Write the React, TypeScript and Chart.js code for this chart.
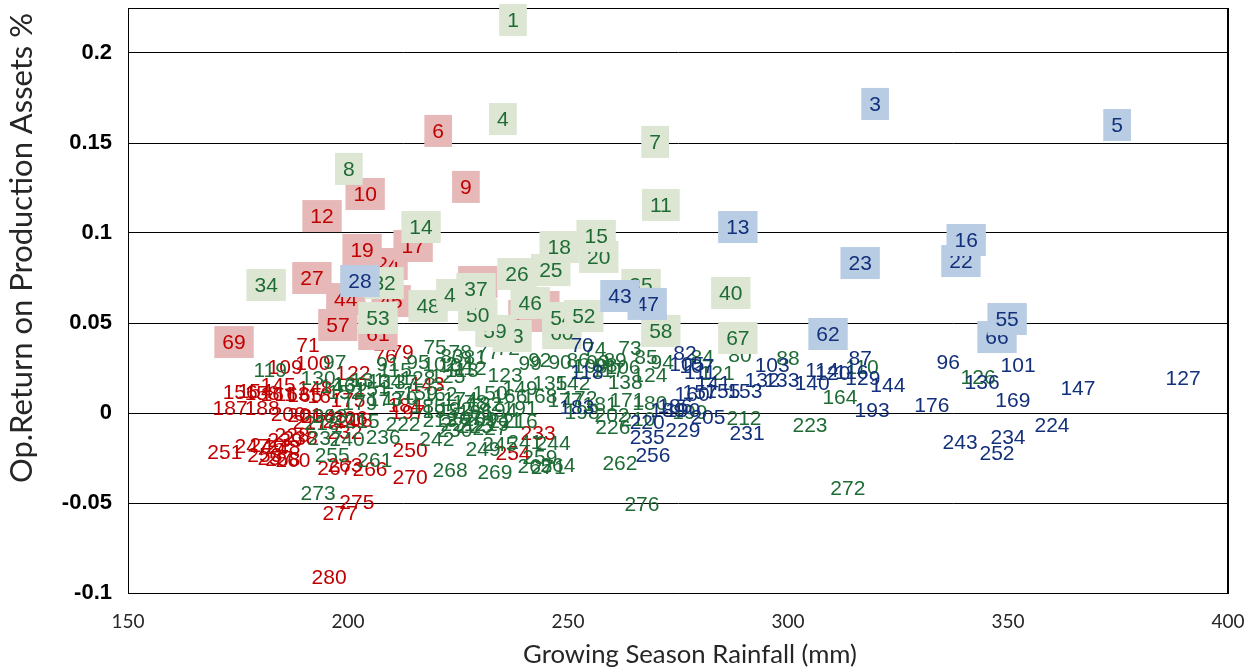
import { useEffect, useRef } from "react";
import { Chart, registerables } from "chart.js";

Chart.register(...registerables);

// ---- Data (label = rank of operating return, 1 = best) ----
// Red group
const redIds = [6,9,10,12,17,19,24,27,31,44,45,49,51,57,61,69,71,76,79,100,109,122,143,145,148,154,156,158,161,163,165,167,175,184,187,188,197,200,201,204,206,208,214,217,228,232,233,238,239,246,247,248,250,251,253,254,257,258,260,263,266,267,270,275,277,280];
const redRainfall = [220.5,226.8,203.9,194.1,214.8,203.2,209.1,191.8,229.5,199.5,209.8,243.6,240.9,197.7,206.8,174.1,190.9,208.4,212.3,192.0,185.7,201.1,218.0,184.1,192.5,178.9,175.5,180.5,184.1,187.3,190.2,194.8,200.0,213.0,173.2,180.5,213.6,186.4,190.2,193.2,200.5,201.6,198.2,191.4,187.3,199.3,243.2,189.1,185.7,181.6,178.2,185.2,214.1,172.0,181.1,237.5,183.4,185.2,187.5,199.3,205.0,197.0,214.1,202.0,198.2,195.7];
const redReturn = [0.1567,0.1256,0.1217,0.1094,0.0928,0.0906,0.0828,0.075,0.0728,0.0633,0.0622,0.0589,0.0539,0.0489,0.0439,0.0394,0.0378,0.0317,0.0339,0.0278,0.0256,0.0222,0.0161,0.0156,0.0139,0.0122,0.0117,0.0111,0.0106,0.0106,0.01,0.0094,0.0072,0.0044,0.0028,0.0028,0.0006,-0.0006,-0.0011,-0.0017,-0.0028,-0.0039,-0.0044,-0.005,-0.0122,-0.0106,-0.0111,-0.0139,-0.015,-0.0178,-0.0183,-0.0189,-0.0206,-0.0217,-0.0233,-0.0222,-0.025,-0.0256,-0.0261,-0.0289,-0.0311,-0.0306,-0.0356,-0.0494,-0.0556,-0.0911];

// Green group
const greenIds = [1,4,7,8,11,14,15,18,20,25,26,32,34,35,37,40,42,46,48,50,52,53,54,58,59,60,63,67,72,73,74,75,77,78,80,81,83,84,85,86,88,89,90,91,92,93,94,95,97,98,99,102,104,106,108,110,112,113,115,117,119,121,123,124,125,126,128,130,131,134,135,137,138,139,142,146,149,150,151,152,159,162,164,166,168,170,171,172,173,174,177,178,179,180,181,182,185,191,192,194,195,196,198,199,202,203,207,209,210,211,212,213,215,216,218,219,221,222,223,225,226,227,230,236,237,240,241,242,244,245,249,255,259,261,262,264,265,268,269,271,272,273,276];
const greenRainfall = [237.5,235.2,269.8,200.2,271.1,216.6,256.4,248.0,257.0,246.1,238.4,208.2,181.4,266.6,229.1,287.0,224.5,241.4,218.2,229.5,253.6,206.8,248.6,271.1,233.4,248.6,237.3,288.6,236.4,264.1,256.1,219.8,231.8,225.5,289.1,228.9,223.6,280.5,267.7,252.3,300.0,260.7,248.2,209.1,243.6,256.8,271.4,215.9,197.0,258.6,241.4,220.9,224.5,262.5,255.0,316.8,227.7,225.9,210.7,259.1,182.3,283.9,235.7,268.6,222.7,343.2,215.9,193.2,204.5,208.4,245.9,211.8,263.0,200.5,251.1,197.7,239.1,232.3,205.5,199.3,216.4,220.9,311.8,236.8,243.6,211.8,263.4,252.7,208.4,225.5,249.3,227.7,202.7,268.6,257.3,231.1,218.2,239.1,224.3,234.5,220.9,228.9,253.2,277.7,260.0,195.9,226.6,230.0,265.9,235.7,290.0,220.9,203.2,239.1,194.1,232.7,225.0,212.5,305.0,228.9,260.2,232.3,224.3,208.0,194.8,199.8,240.2,220.2,246.6,234.5,230.7,196.4,243.6,206.1,261.8,247.7,242.5,223.2,233.4,245.5,313.6,193.2,266.8];
const greenReturn = [0.2183,0.1633,0.1506,0.1356,0.1156,0.1033,0.0983,0.0922,0.0867,0.0794,0.0772,0.0722,0.0711,0.0711,0.0689,0.0667,0.0656,0.0611,0.0594,0.0544,0.0539,0.0528,0.0528,0.0456,0.0456,0.0444,0.0428,0.0417,0.0361,0.0361,0.0356,0.0367,0.0339,0.0339,0.0322,0.0311,0.0317,0.0311,0.0311,0.0294,0.0306,0.0294,0.0283,0.0272,0.0294,0.0283,0.0283,0.0283,0.0283,0.0267,0.0278,0.0272,0.0267,0.0256,0.0261,0.0256,0.025,0.0239,0.0239,0.0239,0.0239,0.0222,0.0211,0.0211,0.0206,0.02,0.0194,0.0194,0.0183,0.0178,0.0167,0.0172,0.0172,0.0161,0.0167,0.015,0.0139,0.0111,0.0133,0.0117,0.0111,0.0106,0.0089,0.0094,0.0094,0.0083,0.0072,0.0083,0.0078,0.0078,0.0072,0.0061,0.0056,0.0056,0.005,0.005,0.0039,0.0028,0.0022,0.0017,0.0011,0.0006,0.0006,0.0006,-0.0011,-0.0017,-0.0028,-0.0033,-0.0033,-0.0044,-0.0028,-0.0039,-0.0044,-0.0044,-0.0056,-0.0061,-0.0061,-0.0061,-0.0067,-0.0072,-0.0078,-0.0083,-0.0094,-0.0133,-0.0139,-0.0144,-0.0161,-0.0144,-0.0167,-0.0172,-0.02,-0.0233,-0.0244,-0.0261,-0.0278,-0.0289,-0.0294,-0.0317,-0.0328,-0.03,-0.0417,-0.0444,-0.0506];

// Blue group
const blueIds = [3,5,13,16,22,23,28,43,47,55,62,66,70,82,87,96,101,103,105,107,111,114,116,118,120,127,129,132,133,136,140,141,144,147,153,155,157,160,169,176,183,186,189,190,193,205,220,224,229,231,234,235,243,252,256];
const blueRainfall = [319.8,374.8,288.6,340.5,339.3,316.4,202.7,261.8,268.0,349.8,309.1,347.5,253.2,276.6,316.4,336.4,352.3,296.4,277.0,279.3,280.0,307.7,314.5,254.3,310.2,389.8,317.0,294.1,298.6,344.1,305.5,283.0,322.7,365.9,290.2,285.2,280.0,278.2,351.1,332.7,252.0,274.3,272.7,276.1,319.1,281.8,268.0,360.0,276.1,290.7,350.0,268.0,339.1,347.5,269.3];
const blueReturn = [0.1717,0.16,0.1033,0.0961,0.0844,0.0833,0.0733,0.065,0.0606,0.0522,0.0439,0.0422,0.0378,0.0333,0.0306,0.0283,0.0267,0.0267,0.0272,0.0261,0.0228,0.0239,0.0228,0.0228,0.0222,0.0194,0.0194,0.0183,0.0183,0.0172,0.0167,0.0167,0.0156,0.0139,0.0122,0.0122,0.0117,0.0106,0.0072,0.0044,0.0033,0.0039,0.0017,0.0017,0.0017,-0.0022,-0.005,-0.0067,-0.0094,-0.0111,-0.0133,-0.0133,-0.0161,-0.0222,-0.0233];

const xTicks = [150, 200, 250, 300, 350, 400];
const yTicks = [-0.1, -0.05, 0, 0.05, 0.1, 0.15, 0.2];
const TOP_QUARTILE_RANK = 69;

const X_TITLE = "Growing Season Rainfall (mm)";
const Y_TITLE = "Op.Return on Production Assets %";

const GROUPS = [
  { ids: redIds, x: redRainfall, y: redReturn, text: "#C00000", box: "#E6B8B7" },
  { ids: greenIds, x: greenRainfall, y: greenReturn, text: "#1F6B35", box: "#DCE6D3" },
  { ids: blueIds, x: blueRainfall, y: blueReturn, text: "#13307A", box: "#B8CCE4" },
];

const TITLE_FONT = 'Lato, "Open Sans", sans-serif';

const labelPlugin = {
  id: "rankLabels",
  afterDatasetsDraw(chart: any) {
    const ctx = chart.ctx;
    ctx.save();
    ctx.font = '21px "Liberation Sans", Arial, sans-serif';
    ctx.textAlign = "center";
    ctx.textBaseline = "middle";
    GROUPS.forEach((g, d) => {
      const meta = chart.getDatasetMeta(d);
      for (let i = g.ids.length - 1; i >= 0; i--) {
        const el = meta.data[i];
        const t = String(g.ids[i]);
        if (g.ids[i] <= TOP_QUARTILE_RANK) {
          const w = ctx.measureText(t).width + 16;
          ctx.fillStyle = g.box;
          ctx.fillRect(el.x - w / 2, el.y - 16, w, 32);
        }
        ctx.fillStyle = g.text;
        ctx.fillText(t, el.x, el.y + 1);
      }
    });
    ctx.restore();
  },
};

function fitFont(ctx: any, text: string, target: number) {
  ctx.font = `100px ${TITLE_FONT}`;
  const w = ctx.measureText(text).width;
  return (100 * target) / w;
}

const framePlugin = {
  id: "frameAndTitles",
  beforeDatasetsDraw(chart: any) {
    const { ctx, chartArea: a } = chart;
    ctx.save();
    ctx.strokeStyle = "#000";
    ctx.lineWidth = 1;
    ctx.beginPath();
    ctx.moveTo(a.left, a.top + 0.5);
    ctx.lineTo(a.right, a.top + 0.5);
    ctx.stroke();
    ctx.lineWidth = 2;
    ctx.beginPath();
    ctx.moveTo(a.right, a.top);
    ctx.lineTo(a.right, a.bottom);
    ctx.stroke();
    ctx.restore();
  },
  afterDraw(chart: any) {
    const { ctx } = chart;
    ctx.save();
    ctx.fillStyle = "#262626";
    ctx.textAlign = "center";
    ctx.textBaseline = "middle";
    const sx = fitFont(ctx, X_TITLE, 334);
    ctx.font = `${sx}px ${TITLE_FONT}`;
    ctx.fillText(X_TITLE, 690, 655);
    const sy = fitFont(ctx, Y_TITLE, 470);
    ctx.font = `${Math.min(sy, sx * 1.25)}px ${TITLE_FONT}`;
    ctx.translate(22, 248);
    ctx.rotate(-Math.PI / 2);
    ctx.fillText(Y_TITLE, 0, 0);
    ctx.restore();
  },
};

export default function App() {
  const ref = useRef<HTMLCanvasElement>(null);
  useEffect(() => {
    if (!ref.current) return;
    const chart = new Chart(ref.current, {
      type: "scatter",
      data: {
        datasets: GROUPS.map((g) => ({
          data: g.x.map((v, i) => ({ x: v, y: g.y[i] })),
          pointRadius: 0,
          pointHoverRadius: 0,
          borderColor: g.text,
          backgroundColor: g.text,
        })),
      },
      options: {
        responsive: false,
        animation: false,
        devicePixelRatio: 1,
        events: [],
        layout: { padding: { top: 8, right: 30, left: 0, bottom: 0 } },
        plugins: { legend: { display: false }, tooltip: { enabled: false } },
        scales: {
          x: {
            type: "linear",
            min: xTicks[0],
            max: xTicks[xTicks.length - 1],
            afterBuildTicks: (s: any) => {
              s.ticks = xTicks.map((v) => ({ value: v }));
            },
            afterFit: (s: any) => {
              s.height = 78;
              s.paddingLeft = 0;
              s.paddingRight = 0;
              s.paddingTop = 0;
              s.paddingBottom = 0;
            },
            grid: { display: false, drawTicks: false },
            border: { display: true, color: "#000", width: 1 },
            ticks: {
              padding: 17,
              color: "#262626",
              font: { family: TITLE_FONT, size: 19 },
            },
          },
          y: {
            type: "linear",
            min: -0.1,
            max: 0.225,
            afterBuildTicks: (s: any) => {
              s.ticks = yTicks.map((v) => ({ value: v }));
            },
            afterFit: (s: any) => {
              s.width = 128;
              s.paddingLeft = 0;
              s.paddingRight = 0;
              s.paddingTop = 0;
              s.paddingBottom = 0;
            },
            grid: { color: "#000", lineWidth: 1, drawTicks: false },
            border: { display: true, color: "#000", width: 1 },
            ticks: {
              padding: 16,
              color: "#000",
              font: { family: '"Liberation Sans", Arial, sans-serif', size: 22, weight: "bold" },
              callback: (v: any) => String(Number(Number(v).toFixed(2))),
            },
          },
        },
      },
      plugins: [framePlugin, labelPlugin],
    });
    return () => chart.destroy();
  }, []);
  return (
    <div style={{ position: "fixed", left: 0, top: 0, width: 1258, height: 671, background: "#fff" }}>
      <canvas ref={ref} width={1258} height={671} />
    </div>
  );
}
